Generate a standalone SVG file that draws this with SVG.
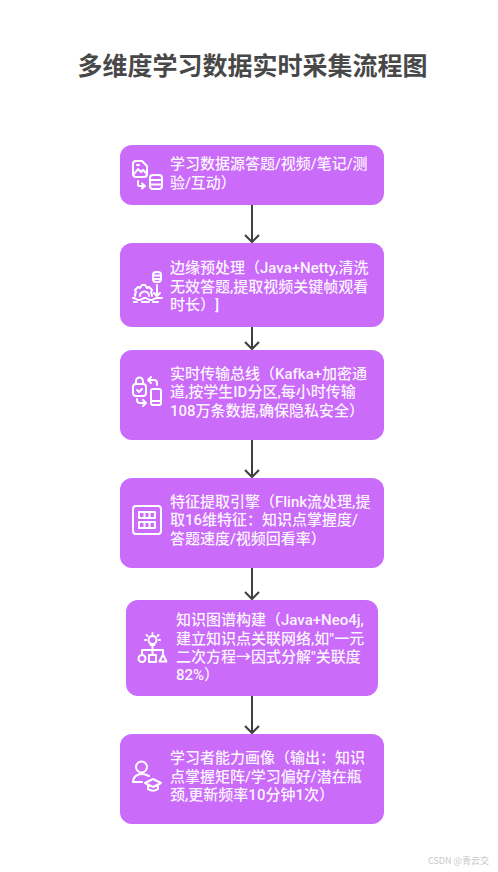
<svg xmlns="http://www.w3.org/2000/svg" width="498" height="872" viewBox="0 0 498 872" lang="zh-CN">
<style>
text{text-spacing-trim:space-all}
.box{fill:#cb6bfa}
.t{font-family:Roboto,"Noto Sans CJK SC",sans-serif;font-size:15px;font-weight:500;fill:#fff;fill-opacity:.94}
.i{fill:none;stroke:#fff;stroke-width:2;stroke-linecap:round;stroke-linejoin:round}
.c{fill:none;stroke:#404040;stroke-width:2}
.title{font-family:"Noto Sans CJK SC",sans-serif;font-size:25px;font-weight:700;fill:#484848}
.wm{font-family:"Noto Sans CJK SC",sans-serif;font-size:9px;fill:#c8c8c8}
</style>
<rect width="498" height="872" fill="#fff"/>
<text class="title" x="252.500" y="75" text-anchor="middle">多维度学习数据实时采集流程图</text>
<g id="connectors">
<path class="c" d="M252 205V242M245 235L252 242L259 235"/>
<path class="c" d="M252 327V349M245 342L252 349L259 342"/>
<path class="c" d="M252 440V477M245 470L252 477L259 470"/>
<path class="c" d="M252 568V599M245 592L252 599L259 592"/>
<path class="c" d="M252 696V733M245 726L252 733L259 726"/>
</g>
<g id="node1">
<rect class="box" x="120" y="145" width="264" height="60" rx="12"/>
<path class="i" d="M133 164a3 3 0 0 1 3-3h6l5 5v8a3 3 0 0 1-3 3h-8a3 3 0 0 1-3-3zM134 174l4-5 3 3 2-2 3 3M137 165h2"/>
<path class="i" d="M138 181v3.500a1.500 1.500 0 0 0 1.500 1.500h5M142 183.500l3 2.500-3 2.500"/>
<rect class="i" x="150" y="175" width="12" height="14" rx="3"/>
<path class="i" d="M150 180h12M150 184.500h12"/>
<text class="t" x="170" y="169">学习数据源答题/视频/笔记/测</text>
<text class="t" x="170" y="188">验/互动）</text>
</g>
<g id="node2">
<rect class="box" x="120" y="243" width="264" height="84" rx="12"/>
<rect class="i" x="153" y="272" width="8" height="10" rx="3"/>
<path class="i" d="M153 275.500h8M153 279h8M157 285v11M154 293l3 3 3-3"/>
<path class="i" d="M135 296a8 8 0 0 1 1-4l-1-2 3-3 2 1 2-3h3l2 3 2-1 3 3-1 2a8 8 0 0 1 1 4M140 296a4.500 4.500 0 0 1 9 0"/>
<path class="i" d="M133 298c3 0 3 2 6 2s3-2 6-2 3 2 6 2 3-2 6-2 3 0 5 0"/>
<path class="i" stroke-width="1.500" d="M134 302h3M142 302h7M153 302h5"/>
<text class="t" x="170" y="273">边缘预处理（Java+Netty,清洗</text>
<text class="t" x="170" y="292">无效答题,提取视频关键帧观看</text>
<text class="t" x="170" y="310">时长）]</text>
</g>
<g id="node3">
<rect class="box" x="120" y="350" width="264" height="90" rx="12"/>
<rect class="i" x="133" y="384" width="13" height="12" rx="3"/>
<path class="i" d="M136 384v-3a3.500 3.500 0 0 1 7 0v3M137 390l2 2 3-3"/>
<path class="i" d="M157 385v-2a3 3 0 0 0-3-3h-6M151 377l-3 3 3 3"/>
<rect class="i" x="151" y="389" width="10" height="16" rx="2"/>
<path class="i" d="M151 401h10"/>
<path class="i" d="M137 399v1a3 3 0 0 0 3 3h6M143 400l3 3-3 3"/>
<text class="t" x="170" y="379">实时传输总线（Kafka+加密通</text>
<text class="t" x="170" y="397">道,按学生ID分区,每小时传输</text>
<text class="t" x="170" y="416">108万条数据,确保隐私安全）</text>
</g>
<g id="node4">
<rect class="box" x="120" y="478" width="264" height="90" rx="12"/>
<rect class="i" x="133" y="506" width="28" height="28" rx="3"/>
<rect class="i" x="139" y="512" width="16" height="6" stroke-width="1.500"/>
<rect class="i" x="139" y="522" width="16" height="6" stroke-width="1.500"/>
<path class="i" stroke-width="1.500" d="M144.500 512v6M149.500 512v6M144.500 522v6M149.500 522v6"/>
<text class="t" x="170" y="507">特征提取引擎（Flink流处理,提</text>
<text class="t" x="170" y="525">取16维特征：知识点掌握度/</text>
<text class="t" x="170" y="544">答题速度/视频回看率）</text>
</g>
<g id="node5">
<rect class="box" x="126" y="600" width="252" height="96" rx="12"/>
<circle class="i" cx="152.500" cy="640" r="4"/>
<path class="i" d="M150.500 645h4M152.500 633v1M146.500 635l1 1M158.500 635l-1 1M145 640h1M160 640h-1M152.500 646v4M142 655v-5h21v4M152.500 650v4"/>
<circle class="i" cx="142" cy="658.500" r="3.500"/>
<rect class="i" x="149" y="655" width="7" height="7"/>
<path class="i" d="M163 654.500l3.500 7h-7z"/>
<text class="t" x="176" y="625">知识图谱构建（Java+Neo4j,</text>
<text class="t" x="176" y="644">建立知识点关联网络,如"一元</text>
<text class="t" x="176" y="662">二次方程→因式分解"关联度</text>
<text class="t" x="176" y="680">82%）</text>
</g>
<g id="node6">
<rect class="box" x="120" y="734" width="264" height="90" rx="12"/>
<circle class="i" cx="141.500" cy="767" r="5.500"/>
<path class="i" d="M133 782c0-5 4-8 9-8 3 0 5 1 7 2M133 782h9"/>
<path class="i" d="M145 783l8-4 8 4-8 4zM148 785v4c3 2 7 2 10 0v-4"/>
<text class="t" x="170" y="763">学习者能力画像（输出：知识</text>
<text class="t" x="170" y="782">点掌握矩阵/学习偏好/潜在瓶</text>
<text class="t" x="170" y="800">颈,更新频率10分钟1次）</text>
</g>
<text class="wm" x="428" y="864">CSDN @青云交</text>
</svg>
